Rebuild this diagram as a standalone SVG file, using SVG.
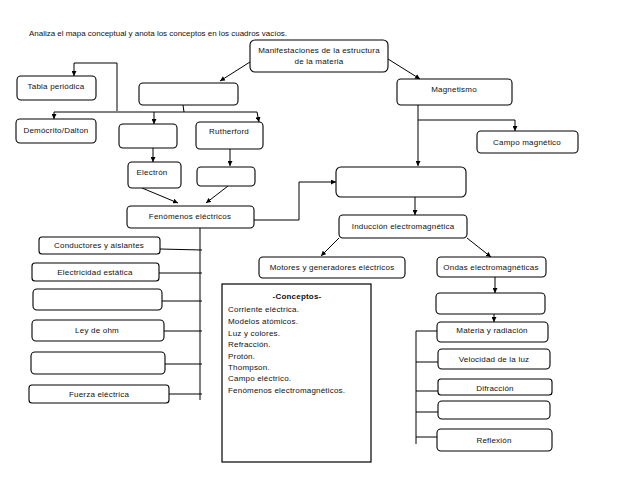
<svg xmlns="http://www.w3.org/2000/svg" width="638" height="493" viewBox="0 0 638 493">
<defs>
<marker id="ah" viewBox="0 0 10 10" refX="10" refY="5" markerWidth="5" markerHeight="5" orient="auto" markerUnits="userSpaceOnUse"><path d="M0,0 L10,5 L0,10 z" fill="#000"/></marker>
</defs>
<style>
.b{fill:#fff;stroke:#000;stroke-width:1.1}
.t{font-family:"Liberation Sans",Arial,sans-serif;font-size:8px;letter-spacing:0.2px;fill:#111;text-anchor:middle}
.l{font-family:"Liberation Sans",Arial,sans-serif;font-size:8px;letter-spacing:0.2px;fill:#111}
.c{fill:none;stroke:#000;stroke-width:1}
.a{fill:none;stroke:#000;stroke-width:1;marker-end:url(#ah)}
</style>
<rect width="638" height="493" fill="#fff"/>
<text class="l" x="29" y="36" textLength="258" lengthAdjust="spacingAndGlyphs" style="letter-spacing:0">Analiza el mapa conceptual y anota los conceptos en los cuadros vacíos.</text>

<g id="connectors">
<path class="a" d="M250,62 L220,81"/>
<path class="a" d="M388,59 L420,79"/>
<path class="c" d="M183,105 L184,112"/>
<path class="c" d="M54,112 L257,112"/>
<path class="a" d="M54,112 L54,119"/>
<path class="a" d="M154,112 L154,124"/>
<path class="a" d="M257,112 L259,122"/>
<path class="c" d="M117,111 L117,63 L74,63"/>
<path class="a" d="M74,63 L74,76"/>
<path class="a" d="M153,148 L153,162"/>
<path class="a" d="M230,149 L230,166"/>
<path class="a" d="M142,188 L178,203"/>
<path class="a" d="M228,186 L206,203"/>
<path class="c" d="M254,220 L299,220 L299,182"/>
<path class="a" d="M299,182 L336,182"/>
<path class="c" d="M200,228 L200,400"/>
<path class="c" d="M160,249 L202,250"/>
<path class="c" d="M159,273 L202,273"/>
<path class="c" d="M162,301 L202,301"/>
<path class="c" d="M164,331 L202,331"/>
<path class="c" d="M165,364 L202,364"/>
<path class="c" d="M169,394 L202,394"/>
<path class="a" d="M418,105 L418,166"/>
<path class="c" d="M418,120 L515,120"/>
<path class="a" d="M515,120 L515,131"/>
<path class="a" d="M415,197 L415,215"/>
<path class="a" d="M339,238 L321,256"/>
<path class="a" d="M467,238 L491,257"/>
<path class="a" d="M495,277 L495,293"/>
<path class="a" d="M494,314 L494,322"/>
<path class="c" d="M416,331 L416,444"/>
<path class="c" d="M416,331 L437,331"/>
<path class="c" d="M416,362 L438,362"/>
<path class="c" d="M416,391 L438,391"/>
<path class="c" d="M416,412 L438,412"/>
<path class="c" d="M416,437 L437,437"/>
</g>

<g id="n-manifestaciones"><rect class="b" x="250" y="40" width="138" height="32" rx="5"/><text class="t" x="319" y="53">Manifestaciones de la estructura</text><text class="t" x="319" y="64">de la materia</text></g>
<g id="n-modelos"><rect class="b" x="139" y="83" width="99" height="22" rx="4"/></g>
<g id="n-magnetismo"><rect class="b" x="397" y="79" width="115" height="26" rx="4"/><text class="t" x="454" y="92">Magnetismo</text></g>
<g id="n-tabla"><rect class="b" x="17" y="76" width="79" height="24" rx="4"/><text class="t" x="56" y="89">Tabla periódica</text></g>
<g id="n-democrito"><rect class="b" x="16" y="119" width="80" height="24" rx="4"/><text class="t" x="56" y="133">Demócrito/Dalton</text></g>
<g id="n-thompson"><rect class="b" x="119" y="124" width="58" height="24" rx="4"/></g>
<g id="n-rutherford"><rect class="b" x="196" y="122" width="67" height="27" rx="4"/><text class="t" x="229" y="134">Rutherford</text></g>
<g id="n-electron"><rect class="b" x="128" y="162" width="53" height="26" rx="4"/><text class="t" x="152" y="175">Electrón</text></g>
<g id="n-proton"><rect class="b" x="197" y="167" width="58" height="19" rx="4"/></g>
<g id="n-fenelec"><rect class="b" x="127" y="206" width="127" height="22" rx="4"/><text class="t" x="190" y="219">Fenómenos eléctricos</text></g>
<g id="n-campomag"><rect class="b" x="477" y="131" width="101" height="22" rx="4"/><text class="t" x="527" y="145">Campo magnético</text></g>
<g id="n-fenem"><rect class="b" x="336" y="167" width="130" height="30" rx="5"/></g>
<g id="n-induccion"><rect class="b" x="339" y="215" width="128" height="23" rx="4"/><text class="t" x="403" y="229">Inducción electromagnética</text></g>
<g id="n-motores"><rect class="b" x="259" y="257" width="146" height="21" rx="4"/><text class="t" x="332" y="270">Motores y generadores eléctricos</text></g>
<g id="n-ondas"><rect class="b" x="437" y="257" width="109" height="20" rx="4"/><text class="t" x="491" y="270">Ondas electromagnéticas</text></g>
<g id="n-luz"><rect class="b" x="436" y="293" width="109" height="21" rx="4"/></g>
<g id="n-materia"><rect class="b" x="437" y="322" width="111" height="20" rx="4"/><text class="t" x="492" y="333">Materia y radiación</text></g>
<g id="n-velocidad"><rect class="b" x="438" y="349" width="112" height="20" rx="4"/><text class="t" x="494" y="362">Velocidad de la luz</text></g>
<g id="n-difraccion"><rect class="b" x="438" y="379" width="114" height="16" rx="3"/><text class="t" x="495" y="391">Difracción</text></g>
<g id="n-refraccion"><rect class="b" x="438" y="401" width="112" height="18" rx="4"/></g>
<g id="n-reflexion"><rect class="b" x="437" y="429" width="115" height="22" rx="4"/><text class="t" x="494" y="443">Reflexión</text></g>
<g id="n-conductores"><rect class="b" x="39" y="237" width="121" height="17" rx="3"/><text class="t" x="99" y="248">Conductores y aislantes</text></g>
<g id="n-estatica"><rect class="b" x="32" y="263" width="127" height="18" rx="3"/><text class="t" x="95" y="275">Electricidad estática</text></g>
<g id="n-corriente"><rect class="b" x="33" y="289" width="129" height="21" rx="4"/></g>
<g id="n-ohm"><rect class="b" x="32" y="320" width="132" height="21" rx="4"/><text class="t" x="97" y="333">Ley de ohm</text></g>
<g id="n-campoelec"><rect class="b" x="31" y="352" width="134" height="22" rx="4"/></g>
<g id="n-fuerza"><rect class="b" x="29" y="385" width="140" height="18" rx="3"/><text class="t" x="99" y="397">Fuerza eléctrica</text></g>

<g id="conceptos">
<rect x="222" y="284" width="149" height="178" fill="#fff" stroke="#000" stroke-width="1.2"/>
<text class="t" x="297" y="299" font-weight="bold">-Conceptos-</text>
<text class="l" x="228" y="312">Corriente eléctrica.</text>
<text class="l" x="228" y="324">Modelos atómicos.</text>
<text class="l" x="228" y="336">Luz y colores.</text>
<text class="l" x="228" y="347">Refracción.</text>
<text class="l" x="228" y="359">Protón.</text>
<text class="l" x="228" y="370">Thompson.</text>
<text class="l" x="228" y="381">Campo eléctrico.</text>
<text class="l" x="228" y="393">Fenómenos electromagnéticos.</text>
</g>
</svg>
